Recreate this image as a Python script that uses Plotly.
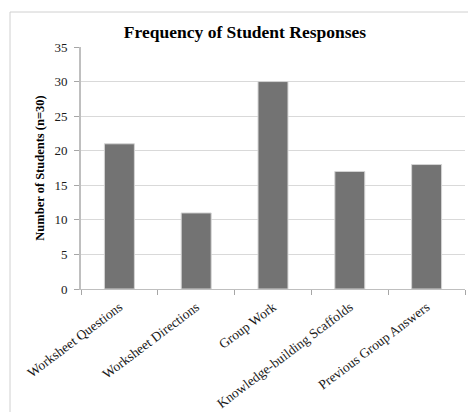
import plotly.graph_objects as go

categories = ["Worksheet Questions", "Worksheet Directions", "Group Work",
              "Knowledge-building Scaffolds", "Previous Group Answers"]
counts = [21, 11, 30, 17, 18]
y_ticks = [0, 5, 10, 15, 20, 25, 30, 35]

W, H = 468, 412
L, R, T, B = 81, 3, 47, 123
pw, ph = W - L - R, H - T - B

def px_x(x):
    return (x - L) / pw

def px_y(y):
    return 1 - (y - T) / ph

fig = go.Figure(go.Bar(
    x=categories, y=counts,
    marker=dict(color="#737373", line=dict(color="#d4d4d4", width=1)),
    width=0.39,
))

serif = "Liberation Serif, Times New Roman, serif"

fig.update_layout(
    width=W, height=H,
    margin=dict(l=L, r=R, t=T, b=B),
    paper_bgcolor="white", plot_bgcolor="white",
    showlegend=False,
    font=dict(family=serif, color="#000000", size=13),
    title=dict(text="<b>Frequency of Student Responses</b>",
               x=245 / W, xanchor="center", y=1 - 32 / H, yanchor="middle",
               font=dict(family=serif, size=17.5, color="#000000")),
    xaxis=dict(
        type="category", tickangle=-37, tickson="boundaries",
        ticks="outside", ticklen=5, tickcolor="#a6a6a6",
        showline=True, linecolor="#bfbfbf", linewidth=1,
        showgrid=False, tickfont=dict(family=serif, size=13.5, color="#1a1a1a"),
        ticklabelstandoff=4, automargin=False,
    ),
    yaxis=dict(
        range=[0, 35], tickvals=y_ticks, ticks="outside", ticklen=5,
        tickcolor="#a6a6a6", showline=True, linecolor="#bfbfbf", linewidth=2,
        showgrid=True, gridcolor="#d9d9d9", gridwidth=1,
        zeroline=False, tickfont=dict(family=serif, size=13, color="#1a1a1a"),
        ticklabelstandoff=4, automargin=False,
        title=dict(text="<b>Number of Students (n=30)</b>", standoff=7,
                   font=dict(family=serif, size=12.5)),
    ),
    shapes=[
        dict(type="line", xref="paper", yref="paper",
             x0=px_x(10), x1=px_x(W + 5), y0=px_y(12), y1=px_y(12),
             line=dict(color="#d0d0d0", width=1)),
        dict(type="line", xref="paper", yref="paper",
             x0=px_x(10), x1=px_x(10), y0=px_y(12), y1=px_y(H + 5),
             line=dict(color="#d0d0d0", width=1)),
    ],
)

fig.write_html("out.html")
